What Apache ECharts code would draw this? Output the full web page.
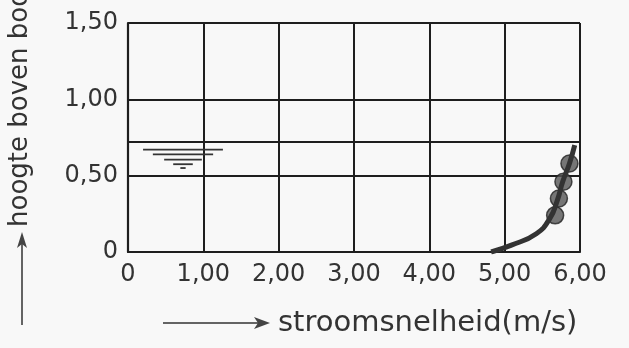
<!DOCTYPE html>
<html><head><meta charset="utf-8">
<script src="https://cdn.jsdelivr.net/npm/echarts@6/dist/echarts.min.js"></script>
<style>html,body{margin:0;padding:0;background:#f8f8f8;}#c{width:629px;height:348px;}</style>
</head><body><div id="c"></div>
<script>
// Data
const xTicks = [0, 1, 2, 3, 4, 5, 6];
const xTickLabels = ['0', '1,00', '2,00', '3,00', '4,00', '5,00', '6,00'];
const yTicks = [0, 0.5, 1, 1.5];
const yTickLabels = ['0', '0,50', '1,00', '1,50'];
const velocity = [4.82, 5.09, 5.42, 5.60, 5.70, 5.77, 5.86, 5.93];
const height = [0.00, 0.045, 0.12, 0.22, 0.34, 0.46, 0.58, 0.70];
const blobVelocity = [5.67, 5.72, 5.78, 5.86];
const blobHeight = [0.24, 0.35, 0.46, 0.58];
const waterLevel = 0.72;
const waterSymbolX = 0.73;
const waterSymbolY = [0.67, 0.64, 0.605, 0.575, 0.55];
const waterSymbolHalf = [0.53, 0.40, 0.25, 0.13, 0.035];

const ink = '#1e1e1e';
const font = '"DejaVu Sans", sans-serif';
const chart = echarts.init(document.getElementById('c'));

const symbolSeries = waterSymbolY.map((y, i) => ({
  type: 'line', silent: true, symbol: 'none',
  lineStyle: { color: '#333', width: 1.8 },
  data: [[waterSymbolX - waterSymbolHalf[i], y], [waterSymbolX + waterSymbolHalf[i], y]]
}));

chart.setOption({
  backgroundColor: '#f8f8f8',
  animation: false,
  grid: { left: 128, right: 49, top: 23, bottom: 96 },
  xAxis: {
    type: 'value', min: 0, max: 6, interval: 1,
    axisLine: { show: true, lineStyle: { color: ink, width: 2.2 } },
    axisTick: { show: false },
    splitLine: { show: true, lineStyle: { color: ink, width: 2 } },
    axisLabel: {
      margin: 11, color: '#333', fontFamily: font, fontSize: 24,
      formatter: v => xTickLabels[xTicks.indexOf(Math.round(v))]
    }
  },
  yAxis: {
    type: 'value', min: 0, max: 1.5, interval: 0.5,
    axisLine: { show: true, lineStyle: { color: ink, width: 2.2 } },
    axisTick: { show: false },
    splitLine: { show: true, lineStyle: { color: ink, width: 2 } },
    axisLabel: {
      margin: 10, color: '#333', fontFamily: font, fontSize: 24,
      formatter: v => yTickLabels[yTicks.indexOf(Math.round(v * 2) / 2)]
    }
  },
  graphic: [
    { type: 'line', shape: { x1: 22, y1: 325, x2: 22, y2: 240 }, style: { stroke: '#333', lineWidth: 1.5 } },
    { type: 'polygon', shape: { points: [[22, 232], [17, 248], [22, 244], [27, 248]] }, style: { fill: '#444' } },
    { type: 'text', x: 20, y: 227, rotation: Math.PI / 2,
      style: { text: 'hoogte boven bodem (m)', fill: '#333', font: '26px ' + font, align: 'left', verticalAlign: 'middle' } },
    { type: 'line', shape: { x1: 163, y1: 323, x2: 262, y2: 323 }, style: { stroke: '#333', lineWidth: 1.5 } },
    { type: 'polygon', shape: { points: [[270, 323], [254, 317], [258, 323], [254, 329]] }, style: { fill: '#444' } },
    { type: 'text', x: 278, y: 323,
      style: { text: 'stroomsnelheid(m/s)', fill: '#333', font: '29px ' + font, align: 'left', verticalAlign: 'middle' } }
  ],
  series: [
    {
      type: 'line', silent: true, symbol: 'none', data: [],
      markLine: {
        silent: true, symbol: 'none', label: { show: false },
        lineStyle: { color: ink, width: 2.2, type: 'solid' },
        data: [{ yAxis: waterLevel }]
      }
    },
    ...symbolSeries,
    {
      type: 'line', smooth: true, symbol: 'none',
      lineStyle: { color: '#333', width: 5 },
      data: velocity.map((v, i) => [v, height[i]])
    },
    {
      type: 'scatter', symbol: 'circle', symbolSize: 17,
      itemStyle: { color: '#555', borderColor: '#222', borderWidth: 1.5 },
      data: blobVelocity.map((v, i) => [v, blobHeight[i]])
    }
  ]
});
</script></body></html>
